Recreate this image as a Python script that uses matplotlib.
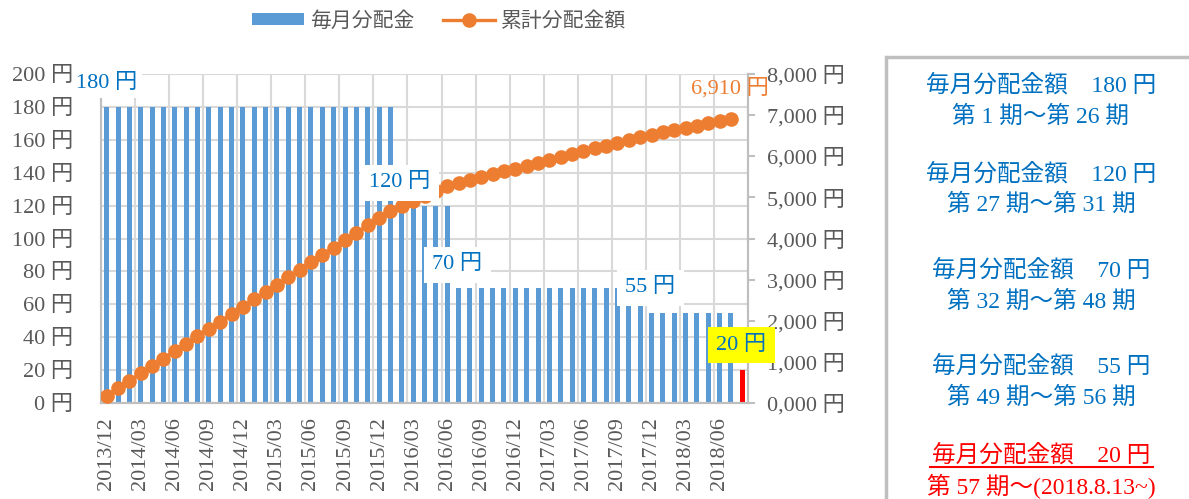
import numpy as np
import matplotlib.pyplot as plt
from matplotlib.patches import Rectangle, Patch
from matplotlib.lines import Line2D

plt.rcParams['font.family'] = ['Liberation Serif', 'Noto Sans CJK JP', 'DejaVu Sans']

# monthly payouts, period 1 (2013/12) .. period 57 (2018/08)
months = [f"{2013 + (11 + i) // 12}/{(11 + i) % 12 + 1:02d}" for i in range(57)]
payout = [180] * 26 + [120] * 5 + [70] * 17 + [55] * 8 + [20]
cumulative = list(np.cumsum(payout[:56])) + [np.nan]

left_ticks = [0, 20, 40, 60, 80, 100, 120, 140, 160, 180, 200]
left_labels = [f"{v} 円" for v in left_ticks]
right_ticks = [0, 1000, 2000, 3000, 4000, 5000, 6000, 7000, 8000]
right_labels = ["0,000 円"] + [f"{v:,} 円" for v in right_ticks[1:]]

panel_lines = [
    ("毎月分配金額　180 円", "第 1 期～第 26 期"),
    ("毎月分配金額　120 円", "第 27 期～第 31 期"),
    ("毎月分配金額　70 円", "第 32 期～第 48 期"),
    ("毎月分配金額　55 円", "第 49 期～第 56 期"),
]
last_panel = ("毎月分配金額　20 円", "第 57 期～(2018.8.13~)")

BLUE = "#5B9BD5"
ORANGE = "#ED7D31"
LABEL_BLUE = "#0070C0"
GRAY_TXT = "#595959"
GRID = "#D9D9D9"
FS = 16

W, H = 1189, 499
fig = plt.figure(figsize=(W / 100, H / 100), dpi=100)
ax = fig.add_axes([101 / W, 1 - 403 / H, (748 - 101) / W, (403 - 74) / H])
ax2 = ax.twinx()

x = np.arange(len(months))
colors = [BLUE] * 56 + ["#FF0000"]
ax.bar(x, payout, width=0.44, color=colors, zorder=2)
ax2.plot(x, cumulative, color=ORANGE, lw=2.4, marker="o", ms=9.5, zorder=3)

ax.set_xlim(-0.5, len(months) - 0.5)
ax.set_ylim(0, 200)
ax2.set_ylim(0, 8000)

ax.set_yticks(left_ticks)
ax.set_yticklabels(left_labels, fontsize=FS, color=GRAY_TXT)
ax2.set_yticks(right_ticks)
ax2.set_yticklabels(right_labels, fontsize=FS, color=GRAY_TXT)

ax.set_xticks(x[::3])
ax.set_xticklabels(months[::3], rotation=90, fontsize=FS, color=GRAY_TXT)
ax.set_xticks(np.arange(-0.5, len(months), 3), minor=True)

ax.grid(axis="y", color=GRID, lw=1.5, zorder=0)
ax.grid(axis="x", which="minor", color=GRID, lw=1.5, zorder=0)
ax.set_axisbelow(True)
ax.tick_params(axis="x", which="both", length=0, pad=10)
ax.tick_params(axis="y", length=0, pad=20)
ax2.tick_params(axis="y", length=5, width=1.5, color="#BFBFBF", pad=9)

for a in (ax, ax2):
    a.spines["top"].set_visible(False)
    for s in ("left", "right", "bottom"):
        a.spines[s].set_color("#BFBFBF")
        a.spines[s].set_linewidth(1.5)

# data labels (left-axis units scaled onto the right axis)
box_w = dict(facecolor="white", edgecolor="none", pad=6)
ax2.text(0.0, 194 * 40, "180 円", fontsize=FS, color=LABEL_BLUE, ha="center", va="center",
         bbox=dict(facecolor="white", edgecolor="none", pad=3), zorder=5, clip_on=False)
ax2.text(25.8, 134 * 40, "120 円", fontsize=FS, color=LABEL_BLUE, ha="center", va="center", bbox=box_w, zorder=5)
ax2.text(30.9, 84 * 40, "70 円", fontsize=FS, color=LABEL_BLUE, ha="center", va="center", bbox=box_w, zorder=5)
ax2.text(47.9, 70 * 40, "55 円", fontsize=FS, color=LABEL_BLUE, ha="center", va="center", bbox=box_w, zorder=5)
ax2.text(55.9, 35 * 40, "20 円", fontsize=FS, color=LABEL_BLUE, ha="center", va="center",
         bbox=dict(facecolor="#FFFF00", edgecolor="none", pad=6), zorder=5, clip_on=False)
ax2.text(54.9, 7640, f"{cumulative[55]:,.0f} 円", fontsize=FS, color=ORANGE, ha="center", va="center",
         zorder=5, clip_on=False)

# legend
handles = [Patch(facecolor=BLUE, edgecolor="none"),
           Line2D([0], [0], color=ORANGE, lw=2.4, marker="o", ms=9.5)]
leg = fig.legend(handles, ["毎月分配金", "累計分配金額"], loc="center", bbox_to_anchor=(439 / W, 1 - 22 / H),
                 ncol=2, frameon=False, fontsize=15, handlelength=2.5, handleheight=0.5,
                 columnspacing=1.4, handletextpad=0.25)
for t in leg.get_texts():
    t.set_color(GRAY_TXT)

# side panel
fig.patches.append(Rectangle((886 / W, -0.1), 0.3, 1 - 57 / H + 0.1, transform=fig.transFigure,
                             facecolor="white", edgecolor="#BFBFBF", lw=2.5))
cx = 1041 / W
ys = [(85, 117), (174, 205), (270, 302), (366, 398)]
for (l1, l2), (y1, y2) in zip(panel_lines, ys):
    fig.text(cx, 1 - y1 / H, l1, fontsize=17, color=LABEL_BLUE, ha="center", va="center")
    fig.text(cx, 1 - y2 / H, l2, fontsize=17, color=LABEL_BLUE, ha="center", va="center")
fig.text(cx, 1 - 455 / H, last_panel[0], fontsize=17, color="#FF0000", ha="center", va="center")
fig.text(cx, 1 - 486 / H, last_panel[1], fontsize=17, color="#FF0000", ha="center", va="center")
fig.add_artist(Line2D([930 / W, 1153 / W], [1 - 467 / H, 1 - 467 / H], color="#FF0000", lw=1.5))

fig.savefig("out.png", dpi=100)
